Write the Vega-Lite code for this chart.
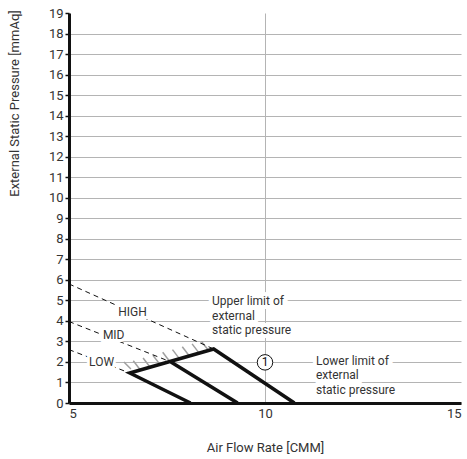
{
  "$schema": "https://vega.github.io/schema/vega-lite/v6.json",
  "width": 392,
  "height": 390,
  "autosize": {"type": "none"},
  "padding": {"left": 69, "top": 13, "right": 6, "bottom": 56},
  "background": "white",
  "config": {
    "font": "Roboto",
    "view": {"stroke": null},
    "axisY": {
      "labelFontSize": 13,
      "labelColor": "#333333",
      "labelPadding": 2,
      "labelOverlap": false,
      "tickSize": 4,
      "tickColor": "#111111",
      "tickWidth": 1.5,
      "domainColor": "#111111",
      "domainWidth": 3,
      "gridColor": "#b4b4b4",
      "gridWidth": 1
    },
    "axisX": {
      "labelFontSize": 13,
      "labelColor": "#333333",
      "labelPadding": 4,
      "labelOverlap": false,
      "ticks": false,
      "domainColor": "#111111",
      "domainWidth": 3,
      "gridColor": "#b4b4b4",
      "gridWidth": 1
    }
  },
  "datasets": {
    "thick": [
      {"s": "a", "o": 1, "x": 8.1, "y": 0},
      {"s": "a", "o": 2, "x": 6.55, "y": 1.46},
      {"s": "a", "o": 3, "x": 8.69, "y": 2.63},
      {"s": "a", "o": 4, "x": 10.75, "y": 0},
      {"s": "b", "o": 1, "x": 7.6, "y": 2.0},
      {"s": "b", "o": 2, "x": 9.3, "y": 0}
    ],
    "dashed": [
      {"s": "HIGH", "o": 1, "x": 5, "y": 5.8},
      {"s": "HIGH", "o": 2, "x": 8.69, "y": 2.63},
      {"s": "MID", "o": 1, "x": 5, "y": 3.97},
      {"s": "MID", "o": 2, "x": 7.6, "y": 2.0},
      {"s": "LOW", "o": 1, "x": 5, "y": 2.6},
      {"s": "LOW", "o": 2, "x": 6.55, "y": 1.46}
    ],
    "hatch": [
      {"x": 6.40, "y": 2.00, "x2": 6.58, "y2": 1.66},
      {"x": 6.64, "y": 2.06, "x2": 6.82, "y2": 1.61},
      {"x": 6.89, "y": 2.19, "x2": 7.07, "y2": 1.74},
      {"x": 7.14, "y": 2.33, "x2": 7.32, "y2": 1.88},
      {"x": 7.39, "y": 2.47, "x2": 7.57, "y2": 2.02},
      {"x": 7.64, "y": 2.60, "x2": 7.82, "y2": 2.15},
      {"x": 7.89, "y": 2.74, "x2": 8.07, "y2": 2.29},
      {"x": 8.14, "y": 2.88, "x2": 8.32, "y2": 2.43},
      {"x": 8.38, "y": 3.00, "x2": 8.56, "y2": 2.56}
    ],
    "labels": [
      {"t": "HIGH", "x": 6.62, "y": 4.44},
      {"t": "MID", "x": 6.14, "y": 3.33},
      {"t": "LOW", "x": 5.83, "y": 1.98}
    ],
    "notes": [
      {"t": "Upper limit of\nexternal\nstatic pressure", "x": 8.65, "y": 4.76},
      {"t": "Lower limit of\nexternal\nstatic pressure", "x": 11.3, "y": 1.87}
    ],
    "marker": [
      {"t": "1", "x": 10.0, "y": 1.98}
    ]
  },
  "encoding": {
    "x": {
      "field": "x", "type": "quantitative",
      "scale": {"domain": [5, 15], "nice": false, "zero": false},
      "axis": {
        "values": [5, 10, 15],
        "title": "Air Flow Rate [CMM]",
        "titleFontSize": 13,
        "titleFontWeight": "normal",
        "titleColor": "#333333",
        "titleY": 44,
        "titleBaseline": "middle",
        "grid": true,
        "gridOpacity": {"condition": {"test": "datum.value == 10", "value": 1}, "value": 0}
      }
    },
    "y": {
      "field": "y", "type": "quantitative",
      "scale": {"domain": [0, 19], "nice": false},
      "axis": {
        "values": [0,1,2,3,4,5,6,7,8,9,10,11,12,13,14,15,16,17,18,19],
        "title": "External Static Pressure [mmAq]",
        "titleFontSize": 13,
        "titleFontWeight": "normal",
        "titleColor": "#333333",
        "titleX": -55,
        "titleY": 90,
        "titleAngle": -90,
        "titleAlign": "center",
        "titleBaseline": "middle",
        "grid": true,
        "gridOpacity": {"condition": {"test": "datum.value == 19", "value": 0}, "value": 1}
      }
    }
  },
  "layer": [
    {
      "data": {"name": "hatch"},
      "mark": {"type": "rule", "color": "#a0a0a0", "strokeWidth": 1.5},
      "encoding": {
        "x2": {"field": "x2"},
        "y2": {"field": "y2"}
      }
    },
    {
      "data": {"name": "dashed"},
      "mark": {"type": "line", "color": "#111111", "strokeWidth": 1, "strokeDash": [5, 4]},
      "encoding": {
        "detail": {"field": "s"},
        "order": {"field": "o"}
      }
    },
    {
      "data": {"name": "labels"},
      "mark": {"type": "text", "fontSize": 12, "align": "center", "baseline": "middle", "stroke": "white", "strokeWidth": 6, "fill": "white"},
      "encoding": {
        "text": {"field": "t"}
      }
    },
    {
      "data": {"name": "labels"},
      "mark": {"type": "text", "fontSize": 12, "align": "center", "baseline": "middle", "color": "#333333"},
      "encoding": {
        "text": {"field": "t"}
      }
    },
    {
      "data": {"name": "notes"},
      "mark": {"type": "text", "fontSize": 12, "align": "left", "baseline": "alphabetic", "lineBreak": "\n", "lineHeight": 14.5, "stroke": "white", "strokeWidth": 8, "fill": "white"},
      "encoding": {
        "text": {"field": "t"}
      }
    },
    {
      "data": {"name": "notes"},
      "mark": {"type": "text", "fontSize": 12, "align": "left", "baseline": "alphabetic", "lineBreak": "\n", "lineHeight": 14.5, "color": "#333333"},
      "encoding": {
        "text": {"field": "t"}
      }
    },
    {
      "data": {"name": "thick"},
      "mark": {"type": "line", "color": "#111111", "strokeWidth": 3.5, "strokeJoin": "miter", "strokeCap": "butt"},
      "encoding": {
        "detail": {"field": "s"},
        "order": {"field": "o"}
      }
    },
    {
      "data": {"name": "marker"},
      "mark": {"type": "point", "shape": "circle", "size": 240, "filled": false, "fill": "white", "fillOpacity": 1, "stroke": "#111111", "strokeWidth": 1, "opacity": 1},
      "encoding": {}
    },
    {
      "data": {"name": "marker"},
      "mark": {"type": "text", "fontSize": 12, "align": "center", "baseline": "middle", "color": "#111111"},
      "encoding": {
        "text": {"field": "t"}
      }
    }
  ]
}
